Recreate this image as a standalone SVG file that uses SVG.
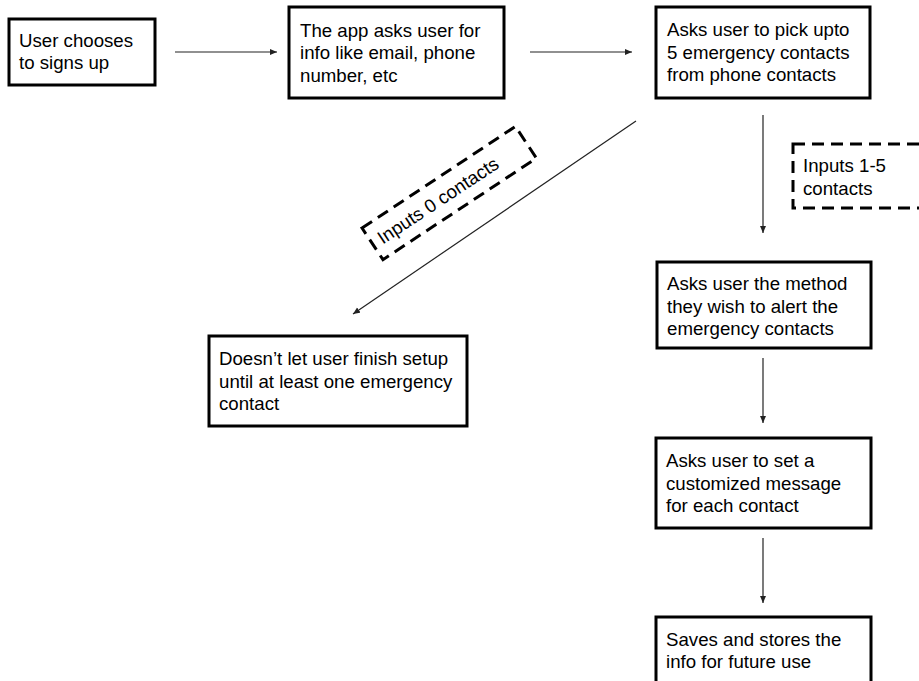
<svg xmlns="http://www.w3.org/2000/svg" width="919" height="681" viewBox="0 0 919 681">
  <style>
    .box { fill: #ffffff; stroke: #000000; stroke-width: 3; }
    .dash { fill: none; stroke: #000000; stroke-width: 3; stroke-dasharray: 12 7; }
    .t { font-family: "Liberation Sans", Arial, sans-serif; font-size: 18.67px; fill: #000000; }
    .conn { fill: none; stroke: #222222; stroke-width: 1.2; }
  </style>
  <defs>
    <marker id="arr" markerUnits="userSpaceOnUse" markerWidth="8" markerHeight="7" refX="7" refY="3" orient="auto">
      <path d="M0,0 L7,3 L0,6 z" fill="#222222"/>
    </marker>
  </defs>
  <rect width="919" height="681" fill="#ffffff"/>

  <g id="connectors">
    <line class="conn" x1="175" y1="52" x2="277" y2="52" marker-end="url(#arr)"/>
    <line class="conn" x1="530" y1="52" x2="632" y2="52" marker-end="url(#arr)"/>
    <line class="conn" x1="763" y1="115" x2="763" y2="233" marker-end="url(#arr)"/>
    <line class="conn" x1="636" y1="121" x2="353" y2="314" marker-end="url(#arr)"/>
    <line class="conn" x1="763" y1="358" x2="763" y2="423" marker-end="url(#arr)"/>
    <line class="conn" x1="763" y1="538" x2="763" y2="603" marker-end="url(#arr)"/>
  </g>

  <g id="label-inputs0" transform="translate(362,228) rotate(-33.5)">
    <rect class="dash" x="0" y="0" width="184" height="38"/>
    <text class="t" x="8" y="25.5">Inputs 0 contacts</text>
  </g>

  <g id="label-inputs15">
    <rect class="dash" x="793" y="144" width="150" height="64"/>
    <text class="t" x="803" y="172">Inputs 1-5</text>
    <text class="t" x="803" y="194.5">contacts</text>
  </g>

  <g id="n1">
    <rect class="box" x="9" y="19" width="146" height="66"/>
    <text class="t" x="19" y="46.7">User chooses</text>
    <text class="t" x="19" y="69.2">to signs up</text>
  </g>

  <g id="n2">
    <rect class="box" x="289" y="7" width="215" height="91"/>
    <text class="t" x="300" y="36.7">The app asks user for</text>
    <text class="t" x="300" y="59.2">info like email, phone</text>
    <text class="t" x="300" y="81.7">number, etc</text>
  </g>

  <g id="n3">
    <rect class="box" x="656" y="7" width="214" height="91"/>
    <text class="t" x="667" y="36.2">Asks user to pick upto</text>
    <text class="t" x="667" y="58.7">5 emergency contacts</text>
    <text class="t" x="667" y="81.2">from phone contacts</text>
  </g>

  <g id="n4">
    <rect class="box" x="657" y="262" width="214" height="86"/>
    <text class="t" x="667" y="290">Asks user the method</text>
    <text class="t" x="667" y="312.5">they wish to alert the</text>
    <text class="t" x="667" y="335">emergency contacts</text>
  </g>

  <g id="n5">
    <rect class="box" x="656" y="438" width="215" height="90"/>
    <text class="t" x="666" y="467">Asks user to set a</text>
    <text class="t" x="666" y="489.5">customized message</text>
    <text class="t" x="666" y="512">for each contact</text>
  </g>

  <g id="n6">
    <rect class="box" x="656" y="617" width="215" height="90"/>
    <text class="t" x="666" y="645.5">Saves and stores the</text>
    <text class="t" x="666" y="668">info for future use</text>
  </g>

  <g id="n7">
    <rect class="box" x="209" y="336" width="258" height="90"/>
    <text class="t" x="219" y="365.4">Doesn’t let user finish setup</text>
    <text class="t" x="219" y="387.9">until at least one emergency</text>
    <text class="t" x="219" y="410.4">contact</text>
  </g>
</svg>
